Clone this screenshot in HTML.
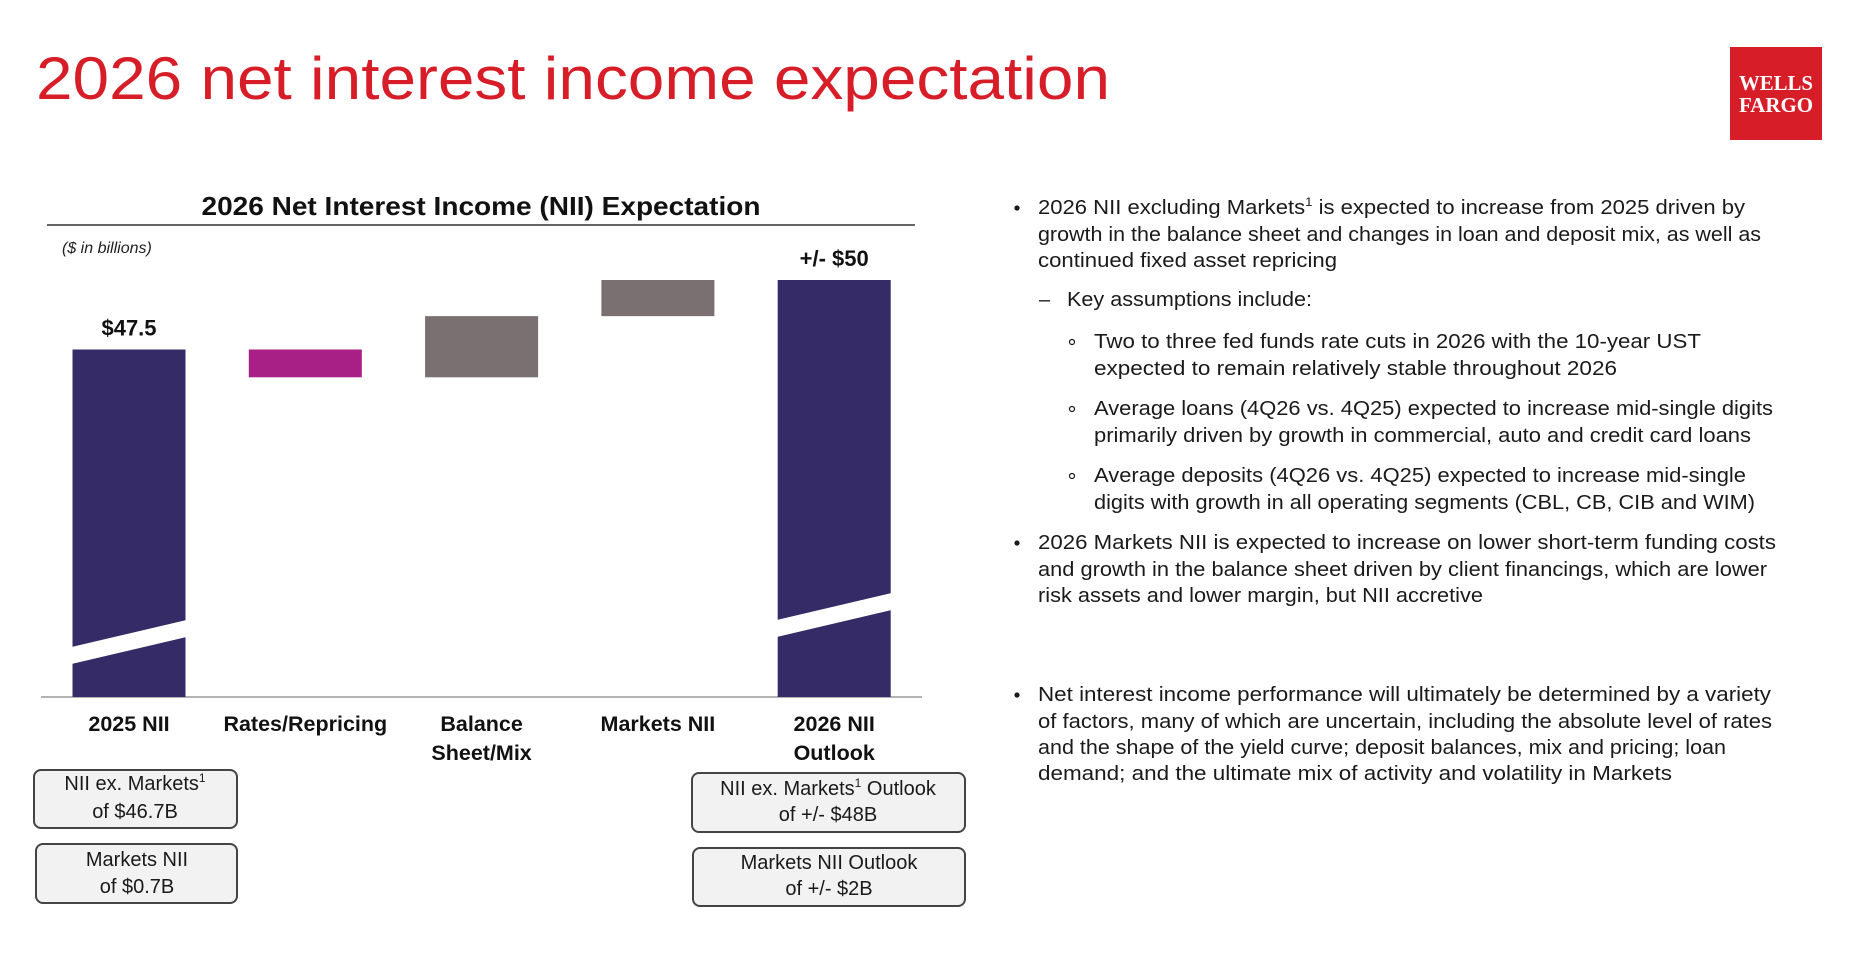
<!DOCTYPE html>
<html>
<head>
<meta charset="utf-8">
<style>
  html,body{margin:0;padding:0;background:#fff;}
  body{width:1867px;height:963px;overflow:hidden;}
  svg{display:block;}
  text{font-family:"Liberation Sans",sans-serif;}
</style>
</head>
<body>
<svg id="page" width="1867" height="963" viewBox="0 0 1867 963" xmlns="http://www.w3.org/2000/svg">
  <text x="36" y="99" font-size="60" fill="#d71e28" textLength="1074" lengthAdjust="spacingAndGlyphs">2026 net interest income expectation</text>

  <g>
    <rect x="1730" y="47" width="92" height="93" fill="#d71e28"/>
    <text x="1776" y="90" font-weight="bold" font-size="21" fill="#fff" text-anchor="middle" textLength="74" lengthAdjust="spacingAndGlyphs" style="font-family:'Liberation Serif',serif">WELLS</text>
    <text x="1776" y="112" font-weight="bold" font-size="21" fill="#fff" text-anchor="middle" textLength="74" lengthAdjust="spacingAndGlyphs" style="font-family:'Liberation Serif',serif">FARGO</text>
  </g>

  <text x="481" y="215" font-size="26" font-weight="bold" fill="#111" text-anchor="middle" textLength="559" lengthAdjust="spacingAndGlyphs">2026 Net Interest Income (NII) Expectation</text>
  <line x1="47" y1="225" x2="915" y2="225" stroke="#333" stroke-width="1.5"/>
  <text x="62" y="253" font-size="16" font-style="italic" fill="#222">($ in billions)</text>

  <g id="chart"></g>

  <g>
    <rect x="34" y="770" width="203" height="58" rx="7" fill="#f2f2f2" stroke="#444" stroke-width="2"/>
    <text x="135" y="790" font-size="20" fill="#1a1a1a" text-anchor="middle">NII ex. Markets<tspan font-size="12" dy="-8">1</tspan></text>
    <text x="135" y="818" font-size="20" fill="#1a1a1a" text-anchor="middle">of $46.7B</text>
  </g>
  <g>
    <rect x="36" y="844" width="201" height="59" rx="7" fill="#f2f2f2" stroke="#444" stroke-width="2"/>
    <text x="137" y="866" font-size="20" fill="#1a1a1a" text-anchor="middle">Markets NII</text>
    <text x="137" y="893" font-size="20" fill="#1a1a1a" text-anchor="middle">of $0.7B</text>
  </g>
  <g>
    <rect x="692" y="773" width="273" height="59" rx="7" fill="#f2f2f2" stroke="#444" stroke-width="2"/>
    <text x="828" y="795" font-size="20" fill="#1a1a1a" text-anchor="middle">NII ex. Markets<tspan font-size="12" dy="-8">1</tspan><tspan dy="8"> Outlook</tspan></text>
    <text x="828" y="821" font-size="20" fill="#1a1a1a" text-anchor="middle">of +/- $48B</text>
  </g>
  <g>
    <rect x="693" y="848" width="272" height="58" rx="7" fill="#f2f2f2" stroke="#444" stroke-width="2"/>
    <text x="829" y="869" font-size="20" fill="#1a1a1a" text-anchor="middle">Markets NII Outlook</text>
    <text x="829" y="895" font-size="20" fill="#1a1a1a" text-anchor="middle">of +/- $2B</text>
  </g>

  <g font-size="20" fill="#1a1a1a" transform="translate(-6,0)">
    <circle cx="1023" cy="208" r="2.6" fill="#1a1a1a"/>
    <text x="1044" y="214" textLength="707" lengthAdjust="spacingAndGlyphs">2026 NII excluding Markets<tspan font-size="12" dy="-8">1</tspan><tspan dy="8"> is expected to increase from 2025 driven by</tspan></text>
    <text x="1044" y="241" textLength="723" lengthAdjust="spacingAndGlyphs">growth in the balance sheet and changes in loan and deposit mix, as well as</text>
    <text x="1044" y="267" textLength="299" lengthAdjust="spacingAndGlyphs">continued fixed asset repricing</text>

    <text x="1045" y="306">–</text>
    <text x="1073" y="306" textLength="245" lengthAdjust="spacingAndGlyphs">Key assumptions include:</text>

    <circle cx="1078" cy="342" r="2.5" fill="none" stroke="#1a1a1a" stroke-width="1.2"/>
    <text x="1100" y="348" textLength="607" lengthAdjust="spacingAndGlyphs">Two to three fed funds rate cuts in 2026 with the 10-year UST</text>
    <text x="1100" y="375" textLength="523" lengthAdjust="spacingAndGlyphs">expected to remain relatively stable throughout 2026</text>

    <circle cx="1078" cy="409" r="2.5" fill="none" stroke="#1a1a1a" stroke-width="1.2"/>
    <text x="1100" y="415" textLength="679" lengthAdjust="spacingAndGlyphs">Average loans (4Q26 vs. 4Q25) expected to increase mid-single digits</text>
    <text x="1100" y="442" textLength="657" lengthAdjust="spacingAndGlyphs">primarily driven by growth in commercial, auto and credit card loans</text>

    <circle cx="1078" cy="476" r="2.5" fill="none" stroke="#1a1a1a" stroke-width="1.2"/>
    <text x="1100" y="482" textLength="652" lengthAdjust="spacingAndGlyphs">Average deposits (4Q26 vs. 4Q25) expected to increase mid-single</text>
    <text x="1100" y="509" textLength="661" lengthAdjust="spacingAndGlyphs">digits with growth in all operating segments (CBL, CB, CIB and WIM)</text>

    <circle cx="1023" cy="543" r="2.6" fill="#1a1a1a"/>
    <text x="1044" y="549" textLength="738" lengthAdjust="spacingAndGlyphs">2026 Markets NII is expected to increase on lower short-term funding costs</text>
    <text x="1044" y="576" textLength="729" lengthAdjust="spacingAndGlyphs">and growth in the balance sheet driven by client financings, which are lower</text>
    <text x="1044" y="602" textLength="445" lengthAdjust="spacingAndGlyphs">risk assets and lower margin, but NII accretive</text>

    <circle cx="1023" cy="695" r="2.6" fill="#1a1a1a"/>
    <text x="1044" y="701" textLength="733" lengthAdjust="spacingAndGlyphs">Net interest income performance will ultimately be determined by a variety</text>
    <text x="1044" y="728" textLength="734" lengthAdjust="spacingAndGlyphs">of factors, many of which are uncertain, including the absolute level of rates</text>
    <text x="1044" y="754" textLength="688" lengthAdjust="spacingAndGlyphs">and the shape of the yield curve; deposit balances, mix and pricing; loan</text>
    <text x="1044" y="780" textLength="634" lengthAdjust="spacingAndGlyphs">demand; and the ultimate mix of activity and volatility in Markets</text>
  </g>
</svg>
<script>
const categories = ["2025 NII", "Rates/Repricing", "Balance|Sheet/Mix", "Markets NII", "2026 NII|Outlook"];
const barValues = [47.5, -1.0, 2.2, 1.3, 50];
const barKinds = ["total", "delta", "delta", "delta", "total"];
const valueLabels = ["$47.5", "", "", "", "+/- $50"];

const NS = "http://www.w3.org/2000/svg";
const chart = document.getElementById("chart");
const axisMin = 35, baseY = 697, pxPerUnit = 27.8;
function yScale(v){ return baseY - (v - axisMin) * pxPerUnit; }
function xCenter(i){ return 129 + i * 176.3; }
const barW = 113;
const colors = {total:"#352b67", neg:"#a81f85", pos:"#7a6f71"};

const axis = document.createElementNS(NS, "line");
axis.setAttribute("x1", 41); axis.setAttribute("x2", 922);
axis.setAttribute("y1", baseY); axis.setAttribute("y2", baseY);
axis.setAttribute("stroke", "#999"); axis.setAttribute("stroke-width", "1.5");


chart.appendChild(axis);

let running = 0;
barValues.forEach((v, i) => {
  let top, bottom, fill;
  if (barKinds[i] === "total") {
    running = v; top = yScale(v); bottom = baseY; fill = colors.total;
  } else {
    const a = running, b = running + v;
    top = yScale(Math.max(a, b)); bottom = yScale(Math.min(a, b));
    fill = v < 0 ? colors.neg : colors.pos;
    running = b;
  }
  const x = xCenter(i) - barW / 2;
  const r = document.createElementNS(NS, "rect");
  r.setAttribute("x", x); r.setAttribute("y", top);
  r.setAttribute("width", barW); r.setAttribute("height", bottom - top);
  r.setAttribute("fill", fill);
  
  
  chart.appendChild(r);

  if (barKinds[i] === "total") {
    const lyTop = i === 0 ? 647 : 620, ryTop = lyTop - 27;
    const p = document.createElementNS(NS, "polygon");
    p.setAttribute("points", `${x-1},${lyTop} ${x+barW+1},${ryTop} ${x+barW+1},${ryTop+17} ${x-1},${lyTop+17}`);
    p.setAttribute("fill", "#fff");
    
    
    chart.appendChild(p);
  }

  if (valueLabels[i]) {
    const t = document.createElementNS(NS, "text");
    t.setAttribute("x", xCenter(i)); t.setAttribute("y", top - 14);
    t.setAttribute("text-anchor", "middle"); t.setAttribute("font-size", "22");
    t.setAttribute("font-weight", "bold"); t.setAttribute("fill", "#111");
    t.textContent = valueLabels[i];
    
    
    chart.appendChild(t);
  }

  categories[i].split("|").forEach((line, j) => {
    const t = document.createElementNS(NS, "text");
    t.setAttribute("x", xCenter(i)); t.setAttribute("y", 731 + j * 29);
    t.setAttribute("text-anchor", "middle"); t.setAttribute("font-size", "21.5");
    t.setAttribute("font-weight", "bold"); t.setAttribute("fill", "#111");
    t.textContent = line;
    
    
    chart.appendChild(t);
  });
});
</script>
</body>
</html>
